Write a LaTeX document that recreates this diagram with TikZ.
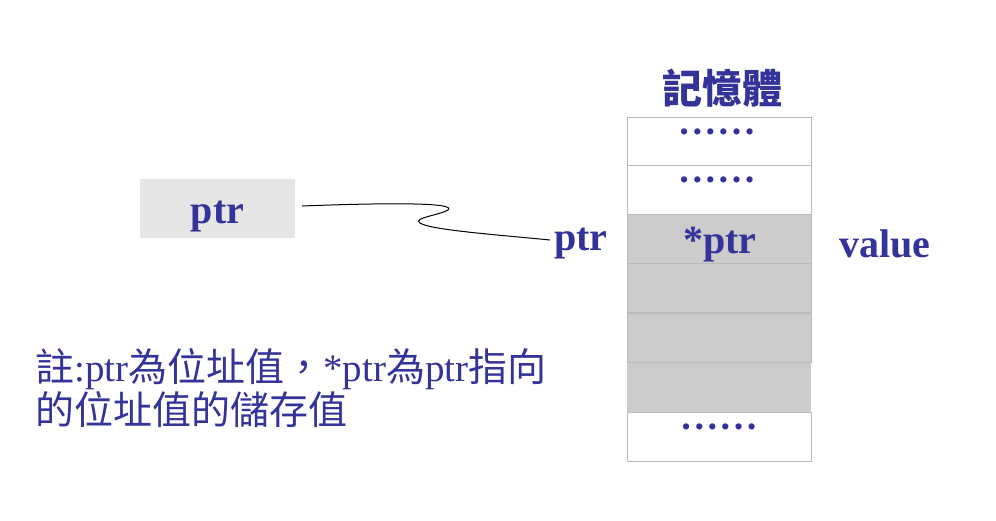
\documentclass[tikz,border=0pt]{standalone}
\usepackage{fontspec}
\setmainfont{Liberation Serif}
\newfontfamily\cjk{Noto Sans CJK TC}
\definecolor{ink}{HTML}{333399}
\definecolor{cellline}{HTML}{BBBBBB}
\definecolor{cellgray}{HTML}{CCCCCC}
\definecolor{boxgray}{HTML}{E6E6E6}
\begin{document}
\begin{tikzpicture}[x=1pt,y=-1pt,
  cell/.style={draw=cellline, line width=1.2pt, fill=white, minimum width=184pt, minimum height=49pt, anchor=north west, inner sep=0pt},
  graycell/.style={cell, fill=cellgray},
  bigtxt/.style={text=ink, anchor=base, inner sep=0pt, font=\fontsize{40}{44}\selectfont\bfseries},
  dots/.style={text=ink, anchor=base, inner sep=0pt, font=\fontsize{26}{28}\selectfont}]
\useasboundingbox (0,0) rectangle (996,520);
% memory column
\node[cell] (m1) at (627,117) {};
\node[cell] (m2) at (627,165) {};
\node[graycell] (m3) at (627,214) {};
\node[graycell] (m4) at (627,263) {};
\node[graycell] (m5) at (627,313) {};
\node[anchor=north west, fill=cellgray, minimum width=184pt, minimum height=50pt, inner sep=0pt] (m6) at (627,363) {};
\node[cell] (m7) at (627,412) {};
\def\dotrow{•\hspace{4pt}•\hspace{4pt}•\hspace{4pt}•\hspace{4pt}•\hspace{4pt}•}
\node[dots] (d1) at (717,140) {\dotrow};
\node[dots] (d2) at (717,188) {\dotrow};
\node[dots] (d7) at (719,435) {\dotrow};
\node[bigtxt] (star) at (720,253) {*ptr};
\node[text=ink, font=\fontsize{40}{44}\selectfont\bfseries\cjk] (title) at (722,88) {記憶體};
\node[bigtxt] (value) at (885,257) {value};
% pointer box
\node[fill=boxgray, minimum width=155pt, minimum height=59pt, inner sep=0pt] (ptrbox) at (217.5,208.5) {};
\node[bigtxt] (ptrtxt) at (217.5,223) {ptr};
\node[bigtxt] (ptrlbl) at (581,250) {ptr};
\coordinate (c0) at (302,206);
\coordinate (c1) at (550,240);
\draw[line width=1pt] (c0) .. controls (380,203) and (458,202) .. (448,210)
  .. controls (440,215) and (412,218) .. (420,223)
  .. controls (430,230) and (500,235) .. (c1);
% note
\node[anchor=north west, align=left, text=ink, inner sep=0pt,
  font=\fontsize{39}{43}\selectfont] (note) at (35,348)
  {{\cjk 註}:ptr{\cjk 為位址值，}*ptr{\cjk 為}ptr{\cjk 指向}\\{\cjk 的位址值的儲存值}};
\end{tikzpicture}
\end{document}
